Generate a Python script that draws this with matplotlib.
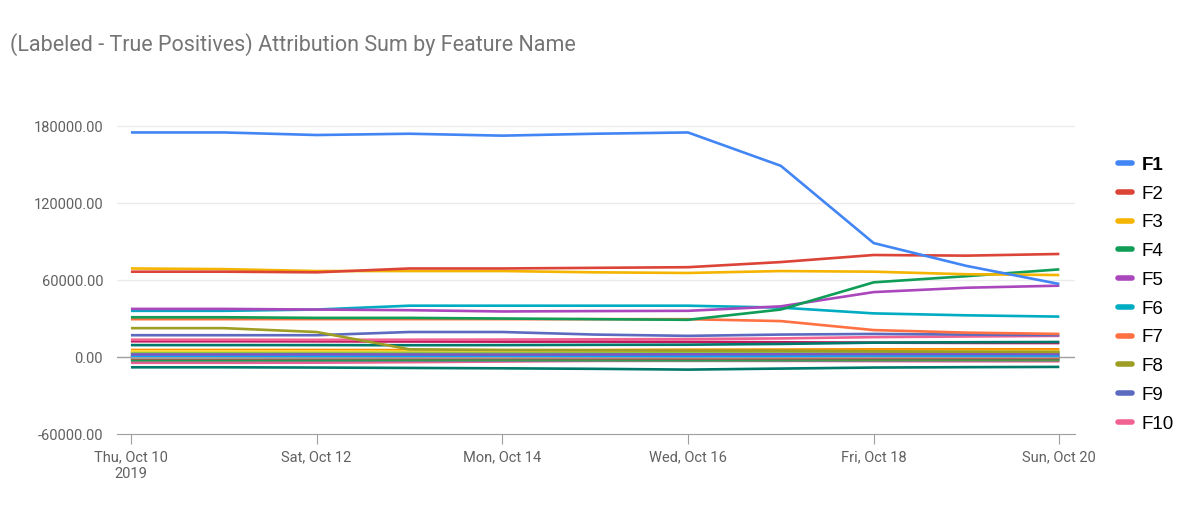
import numpy as np
import pandas as pd
import matplotlib
matplotlib.use("Agg")
import matplotlib.pyplot as plt

plt.rcParams['font.family'] = ['Roboto', 'DejaVu Sans']

dates = pd.date_range("2019-10-10", "2019-10-20", freq="D")
tick_dates = pd.to_datetime(["2019-10-10", "2019-10-12", "2019-10-14",
                             "2019-10-16", "2019-10-18", "2019-10-20"])
tick_labels = ["Thu, Oct 10\n2019", "Sat, Oct 12", "Mon, Oct 14",
               "Wed, Oct 16", "Fri, Oct 18", "Sun, Oct 20"]
y_ticks = [-60000, 0, 60000, 120000, 180000]

palette = ["#4285F4", "#DB4437", "#F4B400", "#0F9D58", "#AB47BC", "#00ACC1",
           "#FF7043", "#9E9D24", "#5C6BC0", "#F06292", "#00796B", "#C2185B",
           "#7E57C2", "#03A9F4", "#8BC34A", "#FDD835", "#FB8C00", "#8D6E63",
           "#9E9E9E", "#607D8B"]

# named features (shown in legend)
f1 = [175000, 175000, 173000, 174000, 172500, 174000, 175000, 149000, 88800, 71000, 56900]
f2 = [66500, 66500, 66000, 69000, 69000, 69500, 70000, 74000, 79500, 79000, 80300]
f3 = [69000, 68500, 67000, 67000, 67000, 66000, 65500, 67000, 66500, 64500, 63900]
f4 = [31000, 31000, 30500, 30500, 30000, 29500, 29000, 37000, 58200, 63000, 68300]
f5 = [37500, 37500, 37000, 36500, 35500, 35800, 36000, 39500, 50600, 54000, 55600]
f6 = [36000, 36000, 37000, 40000, 40000, 40000, 40000, 38500, 34000, 32500, 31500]
f7 = [29500, 29500, 29500, 29500, 29500, 29500, 29500, 28000, 21000, 19000, 18000]
f8 = [22500, 22500, 19500, 6000, 5500, 5200, 5000, 5000, 4500, 4200, 4000]
f9 = [17000, 17000, 17000, 19500, 19500, 17500, 16500, 17500, 18000, 17500, 17000]
f10 = [13500, 13500, 13400, 13500, 13600, 13800, 14000, 14500, 15500, 16000, 16500]

# remaining features clustered near zero (not in legend)
f11 = [9300, 9300, 9300, 9200, 9300, 9500, 9600, 10200, 11200, 11500, 11700]
f12 = [12300, 12300, 12200, 12100, 12000, 12000, 11800, 11500, 11200, 11000, 10900]
f13 = [2000, 2000, 2100, 2000, 1900, 2000, 2100, 2200, 2300, 2300, 2300]
f14 = [1000, 1000, 900, 1000, 1100, 1000, 900, 1000, 1200, 1200, 1200]
f15 = [3000, 3000, 3100, 3200, 3100, 3000, 3000, 3200, 3500, 3600, 3600]
f16 = [4500, 4500, 4400, 4300, 4200, 4300, 4400, 4500, 4600, 4600, 4600]
f17 = [5500, 5500, 5500, 5400, 5300, 5500, 5700, 5800, 6000, 6000, 6000]
f18 = [3500, 3500, 3400, 3300, 3300, 3400, 3500, 3500, 3600, 3600, 3600]
f19 = [-500, -500, -400, -300, -300, -200, -200, -100, 0, 0, 0]
f20 = [2500, 2500, 2400, 2400, 2500, 2600, 2600, 2700, 2800, 2800, 2800]
f21 = [1500, 1500, 1500, 1600, 1600, 1500, 1500, 1400, 1300, 1300, 1300]
f22 = [-1000, -1000, -900, -800, -800, -900, -1000, -900, -800, -800, -800]
f23 = [4000, 4000, 4000, 3900, 3800, 3900, 4000, 4100, 4200, 4200, 4200]
f24 = [-2000, -2000, -2000, -1900, -1800, -1800, -1900, -1800, -1700, -1700, -1700]
f25 = [500, 500, 600, 600, 500, 500, 400, 500, 600, 600, 600]
f26 = [-1500, -1500, -1400, -1300, -1300, -1400, -1500, -1400, -1300, -1300, -1300]
f27 = [200, 200, 300, 300, 200, 100, 100, 200, 300, 300, 300]
f28 = [-2500, -2500, -2400, -2300, -2300, -2400, -2500, -2400, -2300, -2300, -2300]
f29 = [-3000, -3000, -2900, -2800, -2800, -2900, -3000, -2900, -2700, -2600, -2600]
f30 = [-4500, -4500, -4400, -4000, -3500, -3000, -2800, -3000, -3200, -3300, -3300]
f31 = [-8000, -8000, -8200, -8500, -8800, -9200, -9800, -9000, -8200, -7900, -7700]

series = [f1, f2, f3, f4, f5, f6, f7, f8, f9, f10, f11, f12, f13, f14, f15, f16,
          f17, f18, f19, f20, f21, f22, f23, f24, f25, f26, f27, f28, f29, f30, f31]
names = ["F%d" % (i + 1) for i in range(len(series))]

fig = plt.figure(figsize=(12, 5.09), dpi=100)
ax = fig.add_axes([0.0975, 0.1473, 0.7985, 0.6177])

# draw in reverse so F1 ends up on top
handles = []
for i in range(len(series) - 1, -1, -1):
    ln, = ax.plot(dates, series[i], color=palette[i % len(palette)], lw=1.9,
                  solid_capstyle='butt', zorder=3 + (len(series) - i) * 0.01)
    handles.append(ln)
handles = handles[::-1]

ax.set_ylim(-60000, 185000)
ax.set_xlim(dates[0] - pd.Timedelta(hours=3.6), dates[-1] + pd.Timedelta(hours=4.1))
ax.set_yticks(y_ticks)
ax.set_yticklabels(["%.2f" % v for v in y_ticks])
ax.set_xticks(tick_dates)
ax.set_xticklabels(tick_labels)

for v in y_ticks:
    if v == -60000:
        continue
    ax.axhline(v, color="#9e9e9e" if v == 0 else "#ebebeb", lw=1, zorder=1 if v else 2)

for s in ["top", "right", "left"]:
    ax.spines[s].set_visible(False)
ax.spines["bottom"].set_color("#9e9e9e")
ax.spines["bottom"].set_position(("data", -60000))

ax.tick_params(axis="y", length=0, pad=10, labelsize=10.5, labelcolor="#616161")
ax.tick_params(axis="x", length=7, color="#9e9e9e", pad=5, labelsize=10.5, labelcolor="#616161")
for lbl in ax.get_xticklabels():
    lbl.set_horizontalalignment("center")

fig.text(0.008, 0.913, "(Labeled - True Positives) Attribution Sum by Feature Name",
         fontsize=15.5, color="#757575", va="center", ha="left")

leg = fig.legend(handles[:10], names[:10], loc="upper left",
                 bbox_to_anchor=(0.925, 0.707), frameon=False,
                 prop={"family": ["Liberation Sans", "DejaVu Sans"], "size": 13.5},
                 handlelength=0.75, handletextpad=0.55, labelspacing=0.62,
                 borderaxespad=0)
for h in leg.get_lines():
    h.set_linewidth(4)
    h.set_solid_capstyle('round')
leg.get_texts()[0].set_fontweight("bold")

fig.savefig("out.png", dpi=100)
